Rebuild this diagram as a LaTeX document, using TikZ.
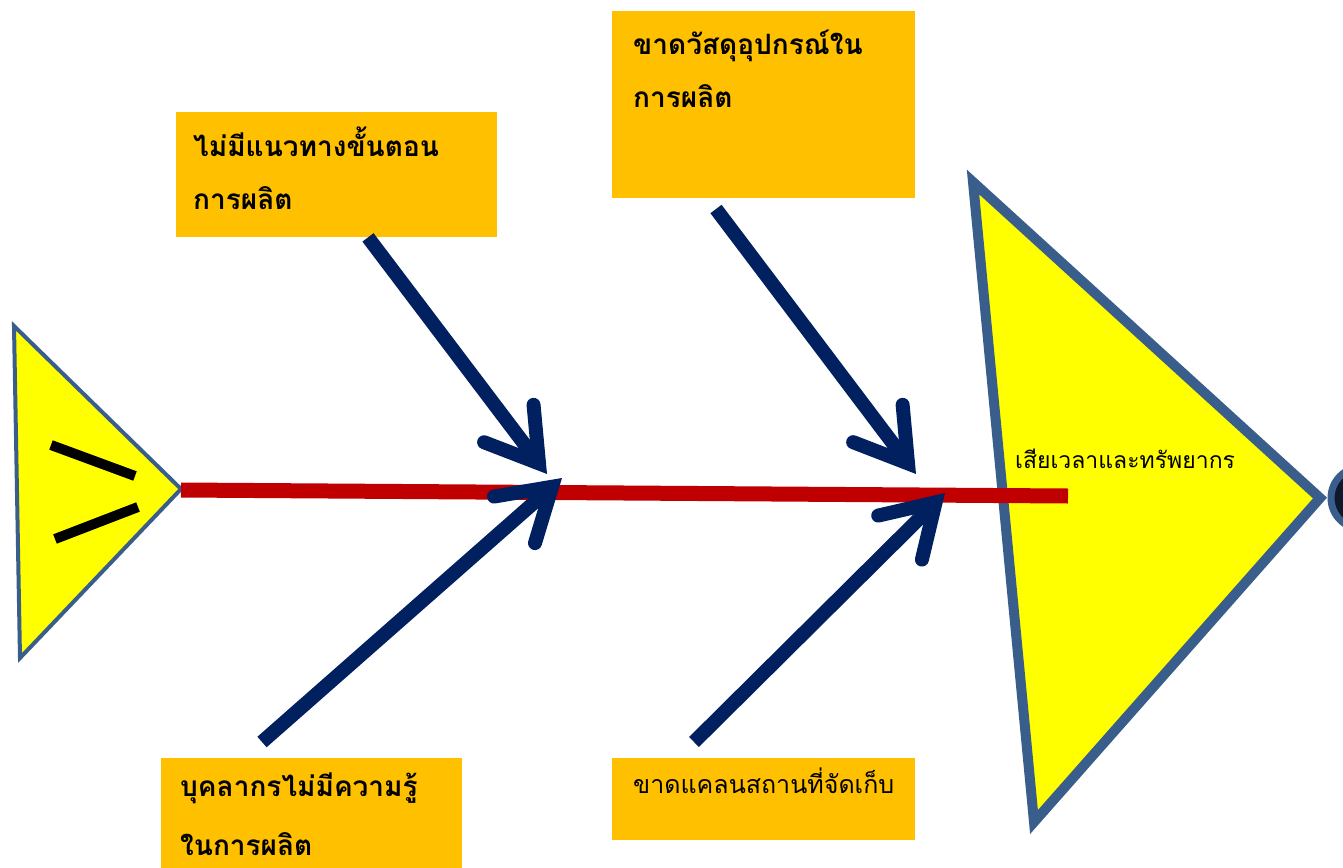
\documentclass[tikz,border=0pt]{standalone}
\usepackage{fontspec}
\newfontfamily\thai[Script=Thai]{Loma}
\usetikzlibrary{arrows.meta}
\definecolor{boxorange}{HTML}{FFC000}
\definecolor{headyellow}{HTML}{FFFF00}
\definecolor{edgeblue}{HTML}{3A5E8C}
\definecolor{navy}{HTML}{002060}
\definecolor{spinered}{HTML}{C00000}
\definecolor{dotdark}{HTML}{0E1A2B}
\tikzset{
  causebox/.style={fill=boxorange, draw=none, inner sep=0pt, anchor=north west},
  causetext/.style={anchor=north west, align=left, inner sep=0pt, font=\thai\bfseries\fontsize{28}{53}\selectfont},
  bone/.style={draw=navy, line width=14pt, line cap=butt,
    -{Straight Barb[length=50pt, width=62pt, line cap=round, line join=miter]}},
}
\begin{document}
\begin{tikzpicture}[x=1pt, y=-1pt]
\useasboundingbox (0,0) rectangle (1343,867);
\fill[white] (0,0) rectangle (1343,867);
\clip (0,0) rectangle (1343,867);

% tail
\draw[fill=headyellow, draw=edgeblue, line width=4pt, line join=miter]
  (14,326) -- (181,489) -- (20,658) -- cycle;
\draw[line width=10pt] (51,445) -- (135,476);
\draw[line width=10pt] (55,539) -- (138,507);

% spine
\coordinate (spineL) at (181,490);
\coordinate (spineR) at (1068,496);

% head
\draw[fill=headyellow, draw=edgeblue, line width=10pt, line join=miter]
  (973,182) -- (1320,498) -- (1034,822) -- cycle;
\draw[fill=dotdark, draw=edgeblue, line width=7pt] (1362,498) circle (31);
\node[anchor=base west, inner sep=0pt, font=\thai\fontsize{23}{27}\selectfont] (effect) at (1015,468) {เสียเวลาและทรัพยากร};

\draw[spinered, line width=15pt] (spineL) -- (spineR);

% cause boxes
\node[causebox, minimum width=321pt, minimum height=125pt] (b1) at (176,112) {};
\node[causebox, minimum width=303pt, minimum height=187pt] (b2) at (612,11) {};
\node[causebox, minimum width=301pt, minimum height=112pt] (b3) at (161,758) {};
\node[causebox, minimum width=303pt, minimum height=82pt] (b4) at (612,758) {};

\node[causetext] (t1) at ([shift={(17,15)}]b1.north west) {ไม่มีแนวทางขั้นตอน\\การผลิต};
\node[causetext] (t2) at ([shift={(21,19)}]b2.north west) {ขาดวัสดุอุปกรณ์ใน\\การผลิต};
\node[causetext, font=\thai\bfseries\fontsize{28}{59}\selectfont] (t3) at ([shift={(19,15)}]b3.north west) {บุคลากรไม่มีความรู้\\ในการผลิต};
\node[causetext, font=\thai\fontsize{25}{50}\selectfont] (t4) at ([shift={(21,10)}]b4.north west) {ขาดแคลนสถานที่จัดเก็บ};

% bones
\coordinate (s1) at ([xshift=192pt]b1.south west);
\coordinate (e1) at (547,474);
\coordinate (s2) at (716,209);
\coordinate (e2) at (916,474);
\coordinate (s3) at (262,742);
\coordinate (e3) at (562,478);
\coordinate (s4) at (694,742);
\coordinate (e4) at (945,493);
\draw[bone] (s1) -- (e1);
\draw[bone] (s2) -- (e2);
\draw[bone] (s3) -- (e3);
\draw[bone] (s4) -- (e4);
\end{tikzpicture}
\end{document}
